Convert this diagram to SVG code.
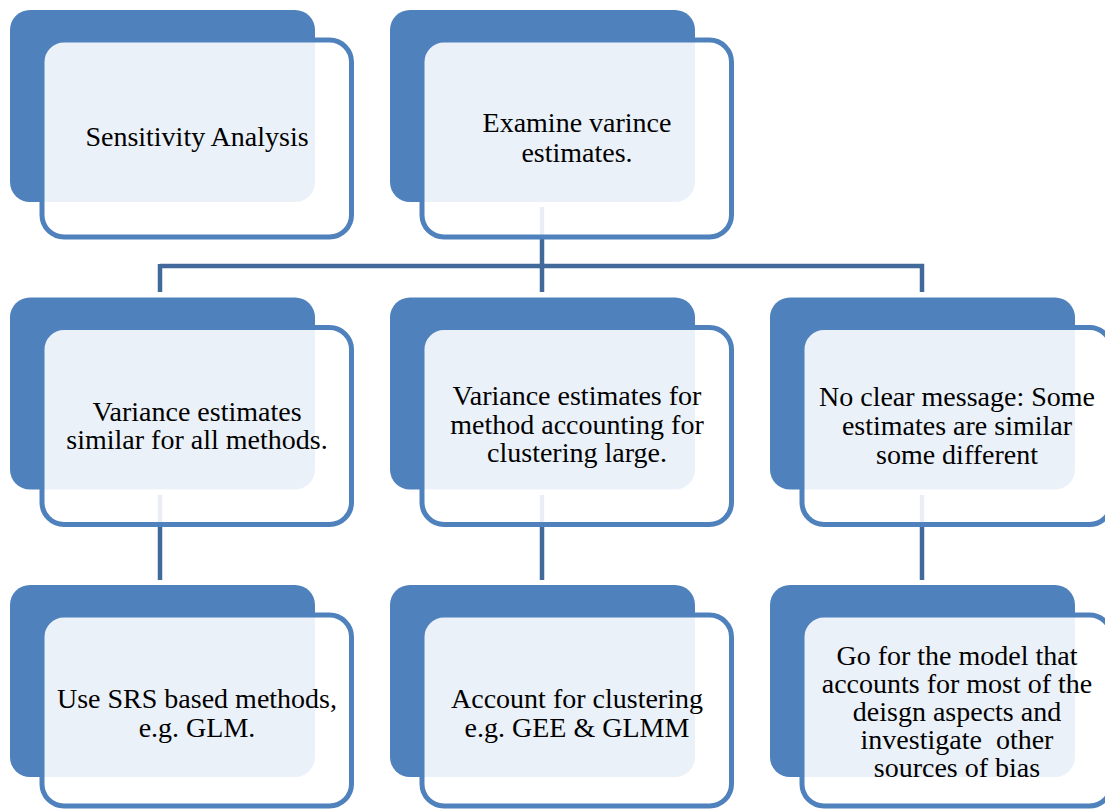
<svg xmlns="http://www.w3.org/2000/svg" width="1105" height="810" viewBox="0 0 1105 810">
<style>
.back{fill:#4F81BD}
.front{fill:#FFFFFF;fill-opacity:0.89;stroke:#4F81BD;stroke-width:5}
.conn{stroke:#41699A;stroke-width:4.5;fill:none}
.t{font-family:'Liberation Serif','Times New Roman',serif;font-size:28px;fill:#000;text-anchor:middle}
</style>
<rect width="1105" height="810" fill="#FFFFFF"/>
<g id="connectors">
<line class="conn" x1="542" y1="207" x2="542" y2="292"/>
<line class="conn" x1="160" y1="266" x2="924" y2="266"/>
<line class="conn" x1="160" y1="264" x2="160" y2="292"/>
<line class="conn" x1="922" y1="264" x2="922" y2="292"/>
<line class="conn" x1="160" y1="495" x2="160" y2="580"/>
<line class="conn" x1="542" y1="495" x2="542" y2="580"/>
<line class="conn" x1="922" y1="495" x2="922" y2="580"/>
</g>
<g id="node-sensitivity">
<rect class="back" x="10" y="10" width="305" height="192" rx="20"/>
<rect class="front" x="42" y="40" width="309.5" height="197" rx="22"/>
<text class="t" x="197" y="146">Sensitivity Analysis</text>
</g>
<g id="node-examine">
<rect class="back" x="390" y="10" width="305" height="192" rx="20"/>
<rect class="front" x="422" y="40" width="309.5" height="197" rx="22"/>
<text class="t" x="577" y="132">Examine varince</text>
<text class="t" x="577" y="162">estimates.</text>
</g>
<g id="node-similar">
<rect class="back" x="10" y="297.5" width="305" height="192" rx="20"/>
<rect class="front" x="42" y="327.5" width="309.5" height="197" rx="22"/>
<text class="t" x="197" y="421">Variance estimates</text>
<text class="t" x="197" y="449">similar for all methods.</text>
</g>
<g id="node-large">
<rect class="back" x="390" y="297.5" width="305" height="192" rx="20"/>
<rect class="front" x="422" y="327.5" width="309.5" height="197" rx="22"/>
<text class="t" x="577" y="405">Variance estimates for</text>
<text class="t" x="577" y="433.5">method accounting for</text>
<text class="t" x="577" y="462">clustering large.</text>
</g>
<g id="node-unclear">
<rect class="back" x="770" y="297.5" width="305" height="192" rx="20"/>
<rect class="front" x="802" y="327.5" width="309.5" height="197" rx="22"/>
<text class="t" x="957" y="406">No clear message: Some</text>
<text class="t" x="957" y="435">estimates are similar</text>
<text class="t" x="957" y="464">some different</text>
</g>
<g id="node-srs">
<rect class="back" x="10" y="585" width="305" height="192" rx="20"/>
<rect class="front" x="42" y="615" width="309.5" height="191" rx="22"/>
<text class="t" x="197" y="708">Use SRS based methods,</text>
<text class="t" x="197" y="737">e.g. GLM.</text>
</g>
<g id="node-clustering">
<rect class="back" x="390" y="585" width="305" height="192" rx="20"/>
<rect class="front" x="422" y="615" width="309.5" height="191" rx="22"/>
<text class="t" x="577" y="708">Account for clustering</text>
<text class="t" x="577" y="737">e.g. GEE &amp; GLMM</text>
</g>
<g id="node-model">
<rect class="back" x="770" y="585" width="305" height="192" rx="20"/>
<rect class="front" x="802" y="615" width="309.5" height="191" rx="22"/>
<text class="t" x="957" y="665">Go for the model that</text>
<text class="t" x="957" y="693">accounts for most of the</text>
<text class="t" x="957" y="721">deisgn aspects and</text>
<text class="t" x="957" y="749" xml:space="preserve">investigate  other</text>
<text class="t" x="957" y="777">sources of bias</text>
</g>
</svg>
